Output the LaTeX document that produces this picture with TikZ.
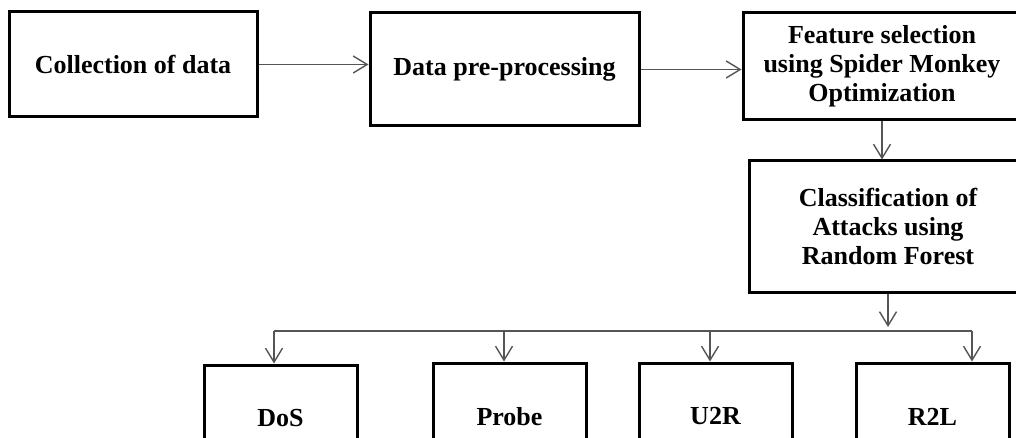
\documentclass[tikz,border=0pt]{standalone}
\usepackage{fontspec}
\setmainfont{Liberation Serif}
\usetikzlibrary{arrows.meta}
\definecolor{linegray}{RGB}{85,85,85}
\newcommand{\blkfont}{\bfseries\fontsize{26}{29}\selectfont}

\begin{document}
\begin{tikzpicture}[x=1pt,y=-1pt]
\tikzstyle{every node}+=[inner sep=0pt]
\tikzstyle{blk}=[draw=black, line width=3pt, align=center, font=\blkfont]
\tikzstyle{link}=[draw=linegray, line width=1.4pt, -{Straight Barb[length=14pt,width=17pt]}]
\useasboundingbox (0,0) rectangle (1016,438);
\node [blk, minimum width=248pt, minimum height=105pt] (collect) at (133,64.5) {Collection of data};
\node [blk, minimum width=269pt, minimum height=113pt] (prep) at (504.5,69.5) {Data pre-processing};
\node [blk, minimum width=278pt, minimum height=107pt] (feat) at (882,66.5) {Feature selection\\using Spider Monkey\\Optimization};
\node [blk, minimum width=278pt, minimum height=131pt] (classify) at (888,226.5) {Classification of\\Attacks using\\Random Forest};
\node [blk, minimum width=153pt, minimum height=107pt] (dos) at (280.5,418.5) {DoS};
\node [blk, minimum width=153pt, minimum height=107pt] (probe) at (509.5,416.5) {Probe};
\node [blk, minimum width=153pt, minimum height=107pt] (utor) at (715.5,416.5) {U2R};
\node [blk, minimum width=153pt, minimum height=107pt] (rtol) at (932.5,416.5) {R2L};
\draw [link] (collect.east) -- (collect.east -| prep.west);
\draw [link] (prep.east) -- (prep.east -| feat.west);
\draw [link] (feat.south) -- (feat.south |- classify.north);
% bus to the attack classes
\coordinate (busdos) at (274,331);
\coordinate (busprobe) at (504,331);
\coordinate (busutor) at (710,331);
\coordinate (busrtol) at (972,331);
\coordinate (busin) at (888,331);
\draw [link] (classify.south) -- ([yshift=4pt]busin);
\draw [draw=linegray, line width=1.4pt] (busdos) -- (busrtol);
\draw [link] (busdos) -- (busdos |- dos.north);
\draw [link] (busprobe) -- (busprobe |- probe.north);
\draw [link] (busutor) -- (busutor |- utor.north);
\draw [link] (busrtol) -- (busrtol |- rtol.north);
\end{tikzpicture}
\end{document}
